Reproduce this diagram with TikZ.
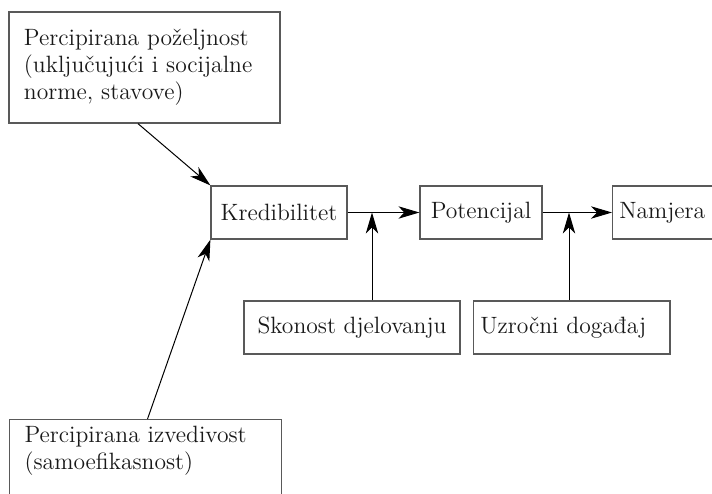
\documentclass[tikz,border=0pt]{standalone}
\usepackage{tikz}
\usetikzlibrary{arrows.meta,calc}
\begin{document}
\begin{tikzpicture}[x=0.5pt,y=-0.5pt,every node/.style={font=\fontsize{11.8}{13.5}\selectfont,text=black!90},
  box/.style={draw=black!65,line width=0.6pt,minimum height=26.5pt},
  arr/.style={line width=0.5pt,-{Stealth[length=10.5pt,width=6.2pt,inset=3pt]}}]
\useasboundingbox (0,0) rectangle (712,493);\clip (0,0) rectangle (712,493);
\node[box,text width=120.5pt,inner xsep=7.5pt,minimum height=55.5pt,align=left] (ppz) at (144.5,67.5) {Percipirana poželjnost\\(uključujući i socijalne\\norme, stavove)};
\node[box,anchor=north west,text width=121pt,inner xsep=7.5pt,text depth=45pt,align=left] (ppi) at (9,419) {Percipirana izvedivost\\(samoefikasnost)};
\node[box,minimum width=68pt] (kred) at (279,212.5) {Kredibilitet};
\node[box,minimum width=61pt] (pot) at (481,212.5) {Potencijal};
\node[box,anchor=west,text width=56pt,align=left] (nam) at (612,212.5) {Namjera};
\node[box,minimum width=108pt] (skon) at (352,327.5) {Skonost djelovanju};
\node[box,anchor=west,text width=91.5pt,align=left] (uzr) at (473,327.5) {Uzročni događaj};
\coordinate (j1) at (372,212.5);\coordinate (j2) at (569,212.5);
\draw[arr] (kred) -- (pot);\draw[arr] (pot) -- (nam);
\draw[arr] (skon.north -| j1) -- (j1);\draw[arr] (uzr.north -| j2) -- (j2);
\draw[arr] ($(ppz.south west)!0.476!(ppz.south east)$) -- (kred.north west);
\draw[arr] ($(ppi.north west)!0.507!(ppi.north east)$) -- (kred.south west);
\end{tikzpicture}
\end{document}
